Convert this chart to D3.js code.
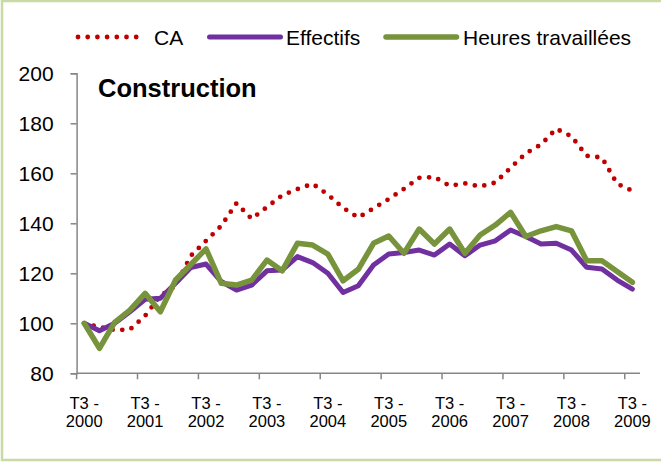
<!DOCTYPE html>
<html>
<head>
<meta charset="utf-8">
<script src="https://cdn.jsdelivr.net/npm/d3@7"></script>
<style>
  body { margin: 0; background: #fff; }
  svg text { font-family: "Liberation Sans", Arial, sans-serif; fill: #000; }
</style>
</head>
<body>
<div id="chart"></div>
<script>
// quarters T3 2000 .. T3 2009
var categories = [
  "T3 - 2000", "T4 - 2000", "T1 - 2001", "T2 - 2001",
  "T3 - 2001", "T4 - 2001", "T1 - 2002", "T2 - 2002",
  "T3 - 2002", "T4 - 2002", "T1 - 2003", "T2 - 2003",
  "T3 - 2003", "T4 - 2003", "T1 - 2004", "T2 - 2004",
  "T3 - 2004", "T4 - 2004", "T1 - 2005", "T2 - 2005",
  "T3 - 2005", "T4 - 2005", "T1 - 2006", "T2 - 2006",
  "T3 - 2006", "T4 - 2006", "T1 - 2007", "T2 - 2007",
  "T3 - 2007", "T4 - 2007", "T1 - 2008", "T2 - 2008",
  "T3 - 2008", "T4 - 2008", "T1 - 2009", "T2 - 2009",
  "T3 - 2009"
];
var ca = [100, 98.5, 97.3, 97.5, 103, 111, 115, 127, 133, 139, 148, 141.8, 146.5,
  151.2, 153.7, 155.8, 151.5, 146.2, 142.3, 146, 149.7, 153.8, 158.2, 158.5, 155,
  156, 154.7, 156.3, 162.2, 168, 171.5, 177.8, 174.8, 167, 166.3, 155.8, 153];
var effectifs = [100, 97, 100, 104.6, 109.6, 110, 116, 122.3, 123.7, 116.7, 113.3, 115.3, 121,
  121.3, 126.7, 124.3, 120, 112.3, 115, 123.3, 127.7, 128.3, 129.3, 127.3, 131.7,
  127, 131.3, 133, 137.3, 134.7, 131.7, 132, 129.3, 122.4, 121.7, 117.3, 113.7];
var heures = [100, 90, 100.4, 105.3, 112, 104.6, 117.3, 123.5, 129.8, 116, 115.3, 117.3, 125.3,
  121, 132, 131.3, 127.7, 117, 121.6, 132, 134.9, 128, 137.7, 131.7, 137.7,
  128, 135.3, 139.3, 144.4, 134.7, 137, 138.7, 137, 125, 125, 120.7, 116.4];
var yTicks = [80, 100, 120, 140, 160, 180, 200];
var seriesNames = ["CA", "Effectifs", "Heures travaillées"];
var title = "Construction";

var width = 661, height = 462;
var svg = d3.select("#chart").append("svg")
    .attr("width", width)
    .attr("height", height);

// light green frame
svg.append("rect")
    .attr("x", 2).attr("y", 1)
    .attr("width", 700).attr("height", 459)
    .attr("fill", "#fff")
    .attr("stroke", "#c9dba5")
    .attr("stroke-width", 2.5);

var x = d3.scaleBand()
    .domain(categories)
    .range([76.6, 640])
    .padding(0);
var y = d3.scaleLinear()
    .domain([80, 200])
    .range([373.3, 73.3]);

var series = [
  { name: seriesNames[0], values: ca, color: "#c00000", dotted: true, w: 4.8 },
  { name: seriesNames[1], values: effectifs, color: "#7030a0", dotted: false, w: 5 },
  { name: seriesNames[2], values: heures, color: "#77933c", dotted: false, w: 5.5 }
];

function styleLine(sel, s) {
  sel.attr("fill", "none")
    .attr("stroke", s.color)
    .attr("stroke-width", s.w)
    .attr("stroke-linejoin", "round")
    .attr("stroke-linecap", "round");
  if (s.dotted) sel.attr("stroke-dasharray", "0 9.7");
}

drawChart();

function drawChart() {
  // y axis
  var yAxis = svg.append("g")
      .attr("transform", "translate(76.6,0)")
      .call(d3.axisLeft(y).tickValues(yTicks).tickSize(6).tickPadding(17).tickFormat(d3.format("d")));
  yAxis.select(".domain").attr("stroke", "#868686").attr("stroke-width", 1.5);
  yAxis.selectAll(".tick line").attr("stroke", "#868686").attr("stroke-width", 1.5);
  yAxis.selectAll(".tick text")
      .attr("font-size", 21)
      .attr("font-family", "Liberation Sans, Arial, sans-serif")
      .attr("fill", "#000");

  // x axis: ticks every 4 quarters, between categories
  var xAxis = svg.append("g")
      .attr("transform", "translate(0," + y(80) + ")");
  xAxis.append("line")
      .attr("x1", x.range()[0]).attr("x2", x.range()[1])
      .attr("stroke", "#868686").attr("stroke-width", 1.5);
  var shown = categories.filter(function (d, i) { return i % 4 === 0; });
  xAxis.selectAll(".xtick")
      .data(shown)
      .enter().append("line")
      .attr("x1", function (d) { return x(d); })
      .attr("x2", function (d) { return x(d); })
      .attr("y1", 0).attr("y2", 6)
      .attr("stroke", "#868686").attr("stroke-width", 1.5);
  var lbl = xAxis.selectAll(".xlabel")
      .data(shown)
      .enter().append("text")
      .attr("text-anchor", "middle")
      .attr("font-size", 16.5)
      .attr("transform", function (d) { return "translate(" + (x(d) + x.bandwidth() / 2) + ",0)"; });
  lbl.append("tspan").attr("x", 0).attr("y", 35.5)
      .text(function (d) { return d.split(" - ")[0] + " -"; });
  lbl.append("tspan").attr("x", 0).attr("y", 53.5)
      .text(function (d) { return d.split(" - ")[1]; });

  // lines
  var line = d3.line()
      .x(function (d, i) { return x(categories[i]) + x.bandwidth() / 2; })
      .y(function (d) { return y(d); });
  series.forEach(function (s) {
    svg.append("path")
        .datum(s.values)
        .attr("d", line)
        .call(styleLine, s);
  });

  // title
  svg.append("text")
      .attr("x", 98).attr("y", 97)
      .attr("font-size", 25.5)
      .attr("font-weight", "bold")
      .text(title);

  // legend
  var legendPos = [
    { x1: 78, x2: 143, tx: 154 },
    { x1: 209.5, x2: 280.5, tx: 286 },
    { x1: 386, x2: 456.5, tx: 463 }
  ];
  var legend = svg.selectAll(".legend")
      .data(series)
      .enter().append("g")
      .attr("class", "legend")
      .attr("transform", "translate(0,37)");
  legend.append("path")
      .attr("d", function (d, i) { return "M" + legendPos[i].x1 + ",0H" + legendPos[i].x2; })
      .each(function (d) { d3.select(this).call(styleLine, d); });
  legend.append("text")
      .attr("x", function (d, i) { return legendPos[i].tx; })
      .attr("y", 7.5)
      .attr("font-size", 21)
      .text(function (d) { return d.name; });
}
</script>
</body>
</html>
